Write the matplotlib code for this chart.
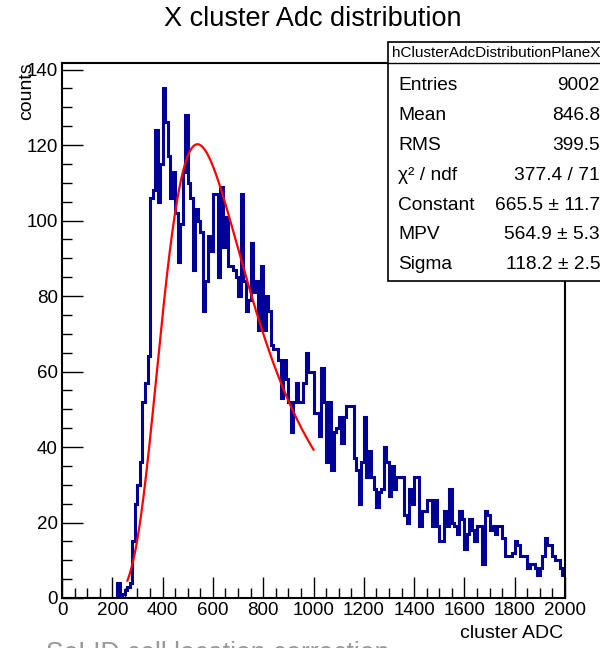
import numpy as np
import matplotlib
matplotlib.use("Agg")
import matplotlib.pyplot as plt
from matplotlib.patches import Rectangle
from matplotlib.lines import Line2D
from matplotlib.ticker import MultipleLocator

plt.rcParams['font.family'] = ['Liberation Sans', 'DejaVu Sans']

# histogram: 200 bins of 10 ADC from 0 to 2000
bin_edges = np.arange(0, 2001, 10)
counts_0_290 = [0] * 22 + [4, 0, 1, 2, 3, 4, 15, 25]
counts_300_690 = [30, 36, 52, 57, 64, 106, 108, 124, 105, 115,
                  135, 126, 117, 106, 113, 102, 89, 99, 113, 128,
                  110, 106, 87, 103, 100, 97, 76, 84, 96, 92,
                  107, 107, 85, 109, 93, 101, 88, 88, 87, 85]
counts_700_1090 = [80, 107, 84, 76, 79, 94, 81, 84, 71, 88,
                   71, 80, 76, 67, 66, 66, 63, 53, 63, 58,
                   52, 44, 52, 57, 52, 52, 57, 65, 60, 60,
                   49, 49, 43, 61, 52, 36, 52, 34, 44, 45]
counts_1100_1490 = [48, 41, 48, 51, 51, 51, 37, 34, 25, 36,
                    48, 32, 39, 32, 29, 24, 28, 29, 40, 36,
                    27, 35, 29, 32, 32, 32, 22, 20, 29, 25,
                    32, 32, 19, 23, 23, 26, 26, 19, 26, 19]
counts_1500_1990 = [15, 15, 23, 19, 29, 20, 19, 17, 23, 21,
                    13, 17, 21, 18, 15, 19, 19, 9, 23, 22,
                    18, 19, 17, 19, 19, 16, 11, 11, 11, 12,
                    15, 14, 11, 11, 11, 8, 9, 9, 8, 6,
                    8, 11, 16, 14, 14, 11, 10, 10, 8, 6]
counts = np.array(counts_0_290 + counts_300_690 + counts_700_1090
                  + counts_1100_1490 + counts_1500_1990, dtype=float)

# landau fit results from the stats box
fit_constant = 665.5
fit_mpv = 564.9
fit_sigma = 118.2
fit_range = (260, 1000)

stats_title = "hClusterAdcDistributionPlaneX"
stats_labels = ["Entries", "Mean", "RMS", "\u03c7\u00b2 / ndf", "Constant", "MPV", "Sigma"]
stats_values = ["9002", "846.8", "399.5", "377.4 / 71",
                "665.5 \u00b1 11.7", "564.9 \u00b1 5.3", "118.2 \u00b1 2.5"]

# slide text cut off at the bottom of the screenshot
slide_caption = "SoLID cell location correction"


def landau_density(lam):
    # ROOT-style landau density, integral representation
    t = np.linspace(1e-9, 40, 20001)
    f = np.exp(-t * np.log(t) - lam[:, None] * t) * np.sin(np.pi * t)
    return np.trapezoid(f, t, axis=1) / np.pi


W, H = 600, 648
fig = plt.figure(figsize=(W / 100, H / 100), dpi=100)
ax = fig.add_axes([62 / W, 50 / H, 503 / W, 535 / H])

ax.stairs(counts, bin_edges, color='#000099', lw=2.2, baseline=None)

x_fit = np.linspace(fit_range[0], fit_range[1], 300)
y_fit = fit_constant * landau_density((x_fit - fit_mpv) / fit_sigma)
ax.plot(x_fit, y_fit, color='red', lw=1.6)

ax.set_xlim(0, 2000)
ax.set_ylim(0, 141.75)
ax.xaxis.set_major_locator(MultipleLocator(200))
ax.xaxis.set_minor_locator(MultipleLocator(50))
ax.yaxis.set_major_locator(MultipleLocator(20))
ax.yaxis.set_minor_locator(MultipleLocator(5))
ax.tick_params(which='both', direction='in', top=False, right=False,
               labelsize=13.5, width=1.0, pad=3)
ax.tick_params(which='major', length=15)
ax.tick_params(which='minor', length=7.5)
for s in ax.spines.values():
    s.set_linewidth(1.5)

fig.text(313 / W, 1 - 19 / H, "X cluster Adc distribution", ha='center', va='center', fontsize=19.5)
fig.text(27 / W, 1 - 62 / H, "counts", rotation=90, ha='center', va='top', fontsize=14)
fig.text(563 / W, 1 - 634 / H, "cluster ADC", ha='right', va='center', fontsize=14)
fig.text(46 / W, 1 - 661 / H, slide_caption, ha='left', va='baseline',
         fontsize=19.1, color='#999999')

# stats box
bx0, bx1, by0, by1 = 388, 612, 42, 281
fig.add_artist(Rectangle((bx0 / W, 1 - by1 / H), (bx1 - bx0) / W, (by1 - by0) / H,
                         transform=fig.transFigure, facecolor='white',
                         edgecolor='black', lw=1.2, zorder=5))
fig.add_artist(Line2D([bx0 / W, bx1 / W], [1 - 63 / H, 1 - 63 / H],
                      transform=fig.transFigure, color='black', lw=1.0, zorder=6))
fig.text(392 / W, 1 - 53 / H, stats_title, ha='left', va='center', fontsize=11, zorder=7)
for i, (lab, val) in enumerate(zip(stats_labels, stats_values)):
    yy = 1 - (85 + 30 * i) / H
    fig.text(398 / W, yy, lab, ha='left', va='center', fontsize=13.8, zorder=7)
    fig.text(600 / W, yy, val, ha='right', va='center', fontsize=13.8, zorder=7)

fig.savefig("out.png", dpi=100)
